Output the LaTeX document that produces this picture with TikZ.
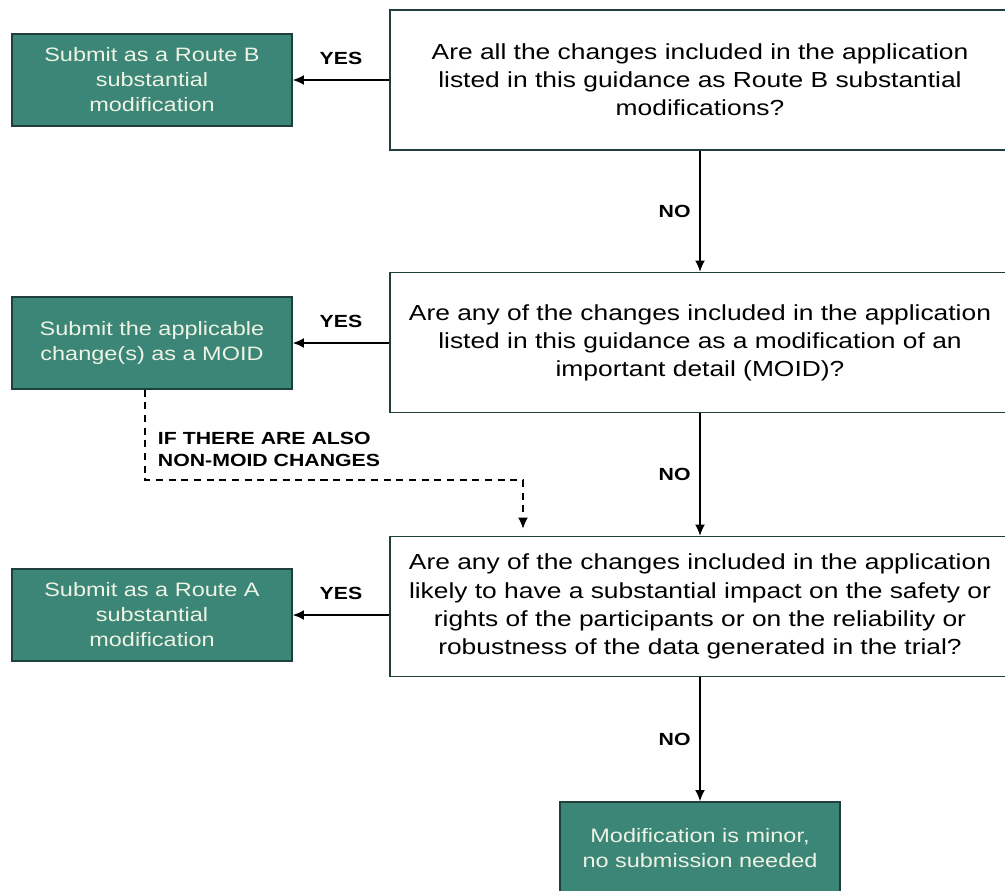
\documentclass[tikz,border=0pt]{standalone}
\usepackage{fontspec}
\setmainfont{Liberation Sans}[FakeStretch=1.21]
\usetikzlibrary{arrows.meta,positioning}
\definecolor{boxgreen}{HTML}{3B8677}
\definecolor{boxedge}{HTML}{1E3F3B}
\definecolor{boxtext}{HTML}{EEF3E4}

\begin{document}
\begin{tikzpicture}
[x=0.025cm,y=-0.025cm,>={Latex[length=8pt,width=7pt]},
question/.style={draw=boxedge, line width=1pt, minimum width=15.5cm, minimum height=3.5cm, align=center, font=\fontsize{15.5}{20}\selectfont},
answer/.style={draw=boxedge, fill=boxgreen, line width=1pt, text=boxtext, minimum width=7cm, minimum height=2.3cm, align=center, font=\fontsize{13.8}{17.8}\selectfont},
lbl/.style={font=\bfseries\fontsize{12.5}{15.5}\selectfont},
link/.style={->, line width=1pt}]
\useasboundingbox (0,0) rectangle (1005,890);

% questions
\node[question] (q1) at (700,80) {Are all the changes included in the application\\listed in this guidance as Route B substantial\\modifications?};
\node[question] (q2) at (700,342.5) {Are any of the changes included in the application\\listed in this guidance as a modification of an\\important detail (MOID)?};
\node[question] (q3) at (700,606.5) {Are any of the changes included in the application\\likely to have a substantial impact on the safety or\\rights of the participants or on the reliability or\\robustness of the data generated in the trial?};

% outcomes
\node[answer] (routeb) at (152,80) {Submit as a Route B\\substantial\\modification};
\node[answer] (moid) at (152,343) {Submit the applicable\\change(s) as a MOID};
\node[answer] (routea) at (152,615) {Submit as a Route A\\substantial\\modification};
\node[answer] (minor) at (700,848) {Modification is minor,\\no submission needed};

\draw[link] (q1.west) -- node[lbl, above=2.5mm] {YES} (routeb.east);
\draw[link] (q2.west |- moid) -- node[lbl, above=2.5mm] {YES} (moid.east);
\draw[link] (q3.west |- routea) -- node[lbl, above=2.5mm] {YES} (routea.east);

\draw[link] (q1.south) -- node[lbl, left=1mm] {NO} (q2.north);
\draw[link] (q2.south) -- node[lbl, left=1mm] {NO} (q3.north);
\draw[link] (q3.south) -- node[lbl, left=1mm] {NO} (minor.north);

% extra path for non-MOID changes
\coordinate (join) at (523,480);
\draw[link, dash pattern=on 5pt off 4pt, shorten >=5pt] ([xshift=-0.175cm]moid.south) |- (join) -- (join |- q3.north);
\node[lbl, align=left, anchor=north west] (cond) at (153,427) {IF THERE ARE ALSO\\NON-MOID CHANGES};
\end{tikzpicture}
\end{document}
